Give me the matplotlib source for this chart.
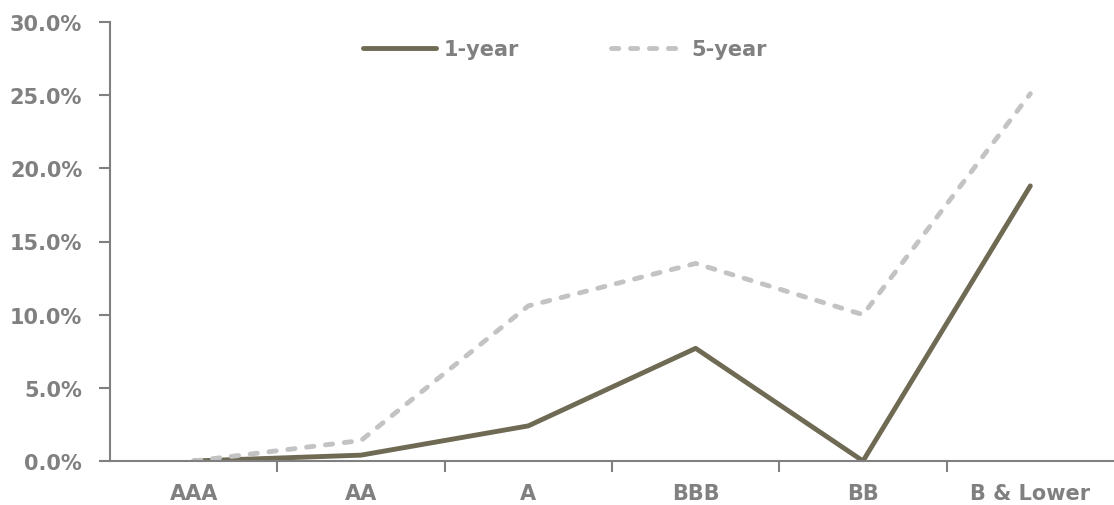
import matplotlib
matplotlib.use("Agg")
import matplotlib.pyplot as plt
from matplotlib.ticker import FuncFormatter, MultipleLocator

categories = ["AAA", "AA", "A", "BBB", "BB", "B & Lower"]
one_year = [0.0, 0.4, 2.4, 7.7, 0.0, 18.8]
five_year = [0.0, 1.4, 10.6, 13.5, 10.0, 25.1]

plt.rcParams['font.family'] = ['DejaVu Sans']
gray = "#808080"
fs = 15

fig = plt.figure(figsize=(11.14, 5.06), dpi=100)
ax = fig.add_axes([110/1114, 1 - 462/506, (1114-110)/1114, (462-23)/506])

x = list(range(len(categories)))
ax.plot(x, one_year, color="#6f6a54", lw=3.5, label="1-year",
        solid_capstyle="round", solid_joinstyle="round")
ax.plot(x, five_year, color="#c3c3c3", lw=3.5, ls=(0, (1.5, 2.4)), label="5-year",
        dash_capstyle="round", dash_joinstyle="round")

ax.set_xlim(-0.5, len(categories) - 0.5)
ax.set_ylim(0, 30)
ax.yaxis.set_major_locator(MultipleLocator(5))
ax.yaxis.set_major_formatter(FuncFormatter(lambda v, p: f"{v:.1f}%"))

ax.set_xticks([i + 0.5 for i in range(len(categories) - 1)])
ax.set_xticklabels([])
ax.set_xticks(x, minor=True)
ax.set_xticklabels(categories, minor=True)
ax.tick_params(axis="x", which="minor", length=0, pad=16, labelsize=fs, labelcolor=gray)
ax.tick_params(axis="x", which="major", length=8, width=1.5, color=gray, direction="out")
ax.tick_params(axis="y", length=8, width=1.5, color=gray, labelsize=fs, labelcolor=gray, pad=12)
for lab in ax.get_xticklabels(minor=True) + ax.get_yticklabels():
    lab.set_fontweight("bold")

for s in ["top", "right"]:
    ax.spines[s].set_visible(False)
for s in ["left", "bottom"]:
    ax.spines[s].set_color(gray)
    ax.spines[s].set_linewidth(1.5)

leg = ax.legend(loc="center", bbox_to_anchor=(0.453, 0.938), ncol=2, frameon=False,
                prop={"weight": "bold", "size": fs}, handlelength=3.5,
                columnspacing=4.4, handletextpad=0.38)
for t in leg.get_texts():
    t.set_color(gray)

fig.savefig("out.png", dpi=100)
